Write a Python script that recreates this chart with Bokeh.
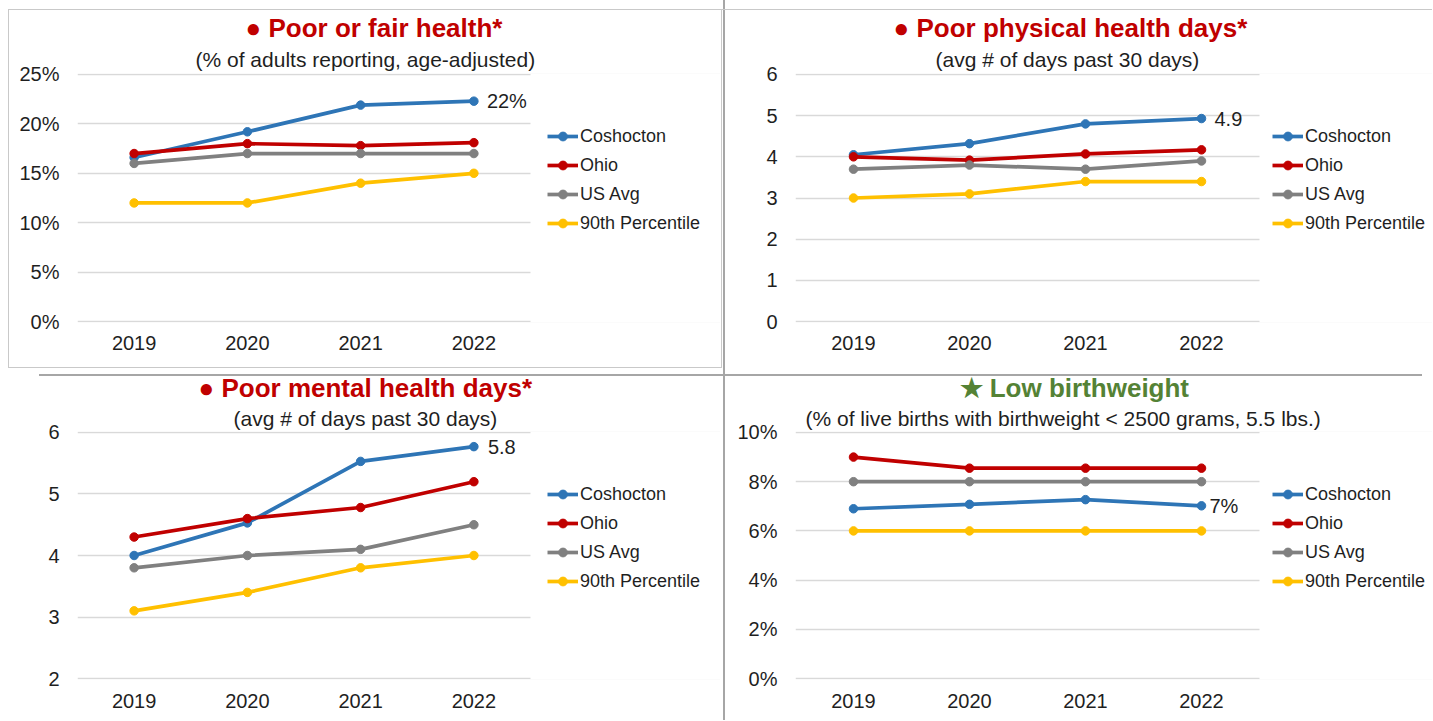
from bokeh.plotting import figure
from bokeh.layouts import gridplot
from bokeh.models import (Range1d, FixedTicker, PrintfTickFormatter,
                          Legend, LegendItem, Title, BoxAnnotation)
from bokeh.embed import file_html
from bokeh.resources import INLINE
from bokeh.core.properties import value

# ---------------- data ----------------
years = ["2019", "2020", "2021", "2022"]
series_names = ["Coshocton", "Ohio", "US Avg", "90th Percentile"]
series_colors = ["#2E75B6", "#C00000", "#808080", "#FFC000"]

fair_coshocton = [16.6, 19.2, 21.9, 22.3]
fair_ohio = [17.0, 18.0, 17.8, 18.1]
fair_us = [16.0, 17.0, 17.0, 17.0]
fair_p90 = [12.0, 12.0, 14.0, 15.0]
fair_ticks = [0, 5, 10, 15, 20, 25]

phys_coshocton = [4.05, 4.32, 4.8, 4.93]
phys_ohio = [4.0, 3.92, 4.07, 4.17]
phys_us = [3.7, 3.8, 3.7, 3.9]
phys_p90 = [3.0, 3.1, 3.4, 3.4]
phys_ticks = [0, 1, 2, 3, 4, 5, 6]

mental_coshocton = [4.0, 4.53, 5.53, 5.77]
mental_ohio = [4.3, 4.6, 4.78, 5.2]
mental_us = [3.8, 4.0, 4.1, 4.5]
mental_p90 = [3.1, 3.4, 3.8, 4.0]
mental_ticks = [2, 3, 4, 5, 6]

lbw_coshocton = [6.9, 7.08, 7.27, 7.02]
lbw_ohio = [9.0, 8.55, 8.55, 8.55]
lbw_us = [8.0, 8.0, 8.0, 8.0]
lbw_p90 = [6.0, 6.0, 6.0, 6.0]
lbw_ticks = [0, 2, 4, 6, 8, 10]

titles = ["\u25CF Poor or fair health*", "\u25CF Poor physical health days*",
          "\u25CF Poor mental health days*", "\u2605 Low birthweight"]
subtitles = ["(% of adults reporting, age-adjusted)", "(avg # of days past 30 days)",
             "(avg # of days past 30 days)",
             "(% of live births with birthweight < 2500 grams, 5.5 lbs.)"]
title_colors = ["#C00000", "#C00000", "#C00000", "#548235"]

FONT = "Liberation Sans"
TXT = "#1F1F1F"

xs = list(range(1, len(years) + 1))          # position of each year on the axis
year_labels = {x: y for x, y in zip(xs, years)}


def make_panel(idx, series, ticks, pct, end_label, label_off, plot_w, extra_w, frame_h,
               b_left, b_top, b_bottom, xstd, t_off, s_off, s_stand, leg_x, styles):
    span = ticks[-1] - ticks[0]
    n = len(years)
    frame_w = plot_w + extra_w
    p = figure(x_range=Range1d(0.5, 0.5 + n * frame_w / plot_w),
               y_range=Range1d(ticks[0] - span * 0.004, ticks[-1] + span * 0.004),
               frame_width=frame_w, frame_height=frame_h,
               output_backend="svg", toolbar_location=None,
               min_border_left=b_left, min_border_right=0, min_border_top=b_top,
               min_border_bottom=b_bottom,
               border_fill_color=None, background_fill_color=None, outline_line_color=None)
    p.styles = styles
    p.xgrid.grid_line_color = None
    p.ygrid.grid_line_color = "#D9D9D9"
    p.ygrid.grid_line_width = 1.5
    p.yaxis.ticker = FixedTicker(ticks=ticks)
    p.xaxis.ticker = FixedTicker(ticks=xs)
    p.xaxis.major_label_overrides = year_labels
    if pct:
        p.yaxis.formatter = PrintfTickFormatter(format="%d%%")
    for ax in (p.xaxis, p.yaxis):
        ax.axis_line_color = None
        ax.major_tick_line_color = None
        ax.minor_tick_line_color = None
        ax.major_tick_out = 0
        ax.minor_tick_out = 0
        ax.major_label_text_font = FONT
        ax.major_label_text_font_size = "20px"
        ax.major_label_text_color = TXT
    p.yaxis.major_label_standoff = 18
    p.xaxis.major_label_standoff = xstd

    # blank out the grid to the right of the plotting area (legend zone)
    p.add_layout(BoxAnnotation(left=n + 0.5, fill_color="white", fill_alpha=1.0,
                               line_color=None))

    items = []
    for name, color, vals in zip(series_names, series_colors, series):
        rl = p.line(xs, vals, line_color=color, line_width=3.7)
        rs = p.scatter(xs, vals, size=8.5, fill_color=color, line_color=color)
        items.append(LegendItem(label=name, renderers=[rl, rs]))

    leg_h = 4 * 22 + 3 * 7
    leg = Legend(items=items, location=(plot_w + leg_x, frame_h - 52 - leg_h),
                 orientation="vertical",
                 border_line_color=None, background_fill_alpha=0, padding=0, margin=0,
                 spacing=7, label_height=22, glyph_height=22, glyph_width=31,
                 label_standoff=2, label_text_font=FONT, label_text_font_size="18px",
                 label_text_color=TXT)
    p.add_layout(leg, "center")

    p.text(x=[xs[-1]], y=[series[0][-1]], text=[end_label], x_offset=label_off,
           text_align="left", text_baseline="middle", text_font=value(FONT),
           text_font_size="20px", text_color=TXT)

    p.add_layout(Title(text=subtitles[idx], align="left", offset=s_off,
                       text_font=FONT, text_font_size="21px", text_font_style="normal",
                       text_color=TXT, standoff=s_stand), "above")
    p.add_layout(Title(text=titles[idx], align="left", offset=t_off,
                       text_font=FONT, text_font_size="26px", text_font_style="bold",
                       text_color=title_colors[idx], standoff=0), "above")
    return p


def lg(c, x, y, w, h):
    return f"linear-gradient({c},{c}) {x} {y} / {w} {h} no-repeat"


LB = "#C9C9C9"
SEP = "#A6A6A6"

s1 = {"background": ", ".join([lg(LB, "8px", "9px", "1px", "100%"),
                               lg(LB, "8px", "9px", "100%", "1px")])}
s2 = {"background": ", ".join([lg(LB, "0px", "9px", "100%", "1px"),
                               lg(LB, "1px", "9px", "1px", "100%"),
                               lg(SEP, "3px", "0px", "2px", "100%")])}
s3 = {"background": ", ".join([lg(LB, "8px", "0px", "1px", "2px"),
                               lg(LB, "8px", "1px", "100%", "1px"),
                               lg(SEP, "39px", "8px", "100%", "2px")])}
s4 = {"background": ", ".join([lg(LB, "1px", "0px", "1px", "2px"),
                               lg(LB, "0px", "1px", "2px", "1px"),
                               lg(SEP, "0px", "8px", "702px", "2px"),
                               lg(SEP, "3px", "0px", "2px", "100%")])}

p1 = make_panel(0, [fair_coshocton, fair_ohio, fair_us, fair_p90], fair_ticks, True,
                f"{round(fair_coshocton[-1])}%", 13, 453, 190, 249, 77, 73, 44, 13,
                168, 118, 6, 17, s1)
p2 = make_panel(1, [phys_coshocton, phys_ohio, phys_us, phys_p90], phys_ticks, False,
                f"{phys_coshocton[-1]:.1f}", 13, 464, 173, 249, 75, 73, 44, 13,
                98, 140, 6, 13, s2)
p3 = make_panel(2, [mental_coshocton, mental_ohio, mental_us, mental_p90], mental_ticks, False,
                f"{mental_coshocton[-1]:.1f}", 14, 453, 190, 248, 77, 65, 41, 14,
                121, 156, 4, 17, s3)
p4 = make_panel(3, [lbw_coshocton, lbw_ohio, lbw_us, lbw_p90], lbw_ticks, True,
                f"{round(lbw_coshocton[-1])}%", 8, 464, 173, 248, 75, 63, 43, 14,
                164, 10, 4, 13, s4)

layout = gridplot([[p1, p2], [p3, p4]], toolbar_location=None)
open("out.html", "w").write(file_html(layout, INLINE))
